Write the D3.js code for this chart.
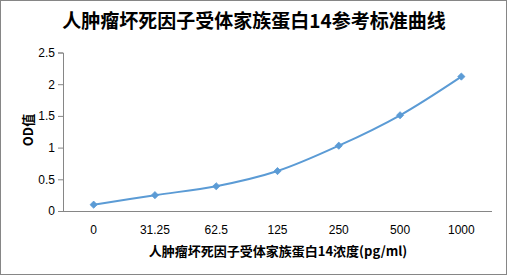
<!DOCTYPE html>
<html><head><meta charset="utf-8">
<script src="https://cdn.jsdelivr.net/npm/d3@7"></script>
<style>body{margin:0;background:#fff}svg{display:block}</style>
</head><body>
<script>
const categories = ["0","31.25","62.5","125","250","500","1000"];
const odValues = [0.10, 0.25, 0.39, 0.63, 1.03, 1.51, 2.12];
const yTicks = [0, 0.5, 1, 1.5, 2, 2.5];
const yTickLabels = ["0","0.5","1","1.5","2","2.5"];
const titleText = "人肿瘤坏死因子受体家族蛋白14参考标准曲线";
const xTitle = "人肿瘤坏死因子受体家族蛋白14浓度(pg/ml)";
const yTitle = "OD值";

const W = 507, H = 275;
const svg = d3.select("body").append("svg").attr("width", W).attr("height", H);
svg.append("rect").attr("x",0.5).attr("y",0.5).attr("width",W-1).attr("height",H-1)
  .attr("fill","#fff").attr("stroke","#868686");

const x0 = 63, x1 = 492, yTop = 52.5, yBot = 211;
const x = d3.scaleBand().domain(categories).range([x0, x1]);
const y = d3.scaleLinear().domain([0, 2.5]).range([yBot, yTop]);
const font = "'Noto Sans CJK SC', 'Noto Sans', sans-serif";
const axisCol = "#868686";

// y axis
const ya = svg.append("g").attr("transform", `translate(${x0},0)`)
  .call(d3.axisLeft(y).tickValues(yTicks).tickFormat((d,i)=>yTickLabels[i]).tickSize(5).tickPadding(3));
ya.select(".domain").attr("stroke", axisCol);
ya.selectAll(".tick line").attr("stroke", axisCol);
ya.selectAll("text").attr("font-family", "Arial, 'Liberation Sans', sans-serif").attr("font-size", 12).attr("fill","#000");

// x axis
const xa = svg.append("g").attr("transform", `translate(0,${yBot})`)
  .call(d3.axisBottom(x).tickSize(0).tickPadding(14));
xa.select(".domain").attr("stroke", axisCol).attr("d", `M${x0},0.5H${x1}`);
xa.selectAll("text").attr("font-family", "Arial, 'Liberation Sans', sans-serif").attr("font-size", 12).attr("fill","#000");

// line
const pts = categories.map((c,i)=>[x(c)+x.bandwidth()/2, y(odValues[i])]);
svg.append("path").datum(pts)
  .attr("d", d3.line().curve(d3.curveCatmullRom.alpha(0.5)))
  .attr("fill","none").attr("stroke","#5B9BD5").attr("stroke-width",2);
const r = 3.6;
svg.selectAll(".m").data(pts).enter().append("path")
  .attr("transform", d=>`translate(${d[0]},${d[1]})`)
  .attr("d", `M0,${-r}L${r},0L0,${r}L${-r},0Z`)
  .attr("fill","#5B9BD5").attr("stroke","#5B9BD5").attr("stroke-width",0.8);

// titles
svg.append("text").attr("x", 254).attr("y", 28).attr("text-anchor","middle")
  .attr("font-family", font).attr("font-weight","bold").attr("font-size",19).text(titleText);
svg.append("text").attr("x", 278).attr("y", 256).attr("text-anchor","middle")
  .attr("font-family", font).attr("font-weight","bold").attr("font-size",13).text(xTitle);
svg.append("text").attr("transform","translate(33,130) rotate(-90)").attr("text-anchor","middle")
  .attr("font-family", font).attr("font-weight","bold").attr("font-size",13).text(yTitle);
</script>
</body></html>
